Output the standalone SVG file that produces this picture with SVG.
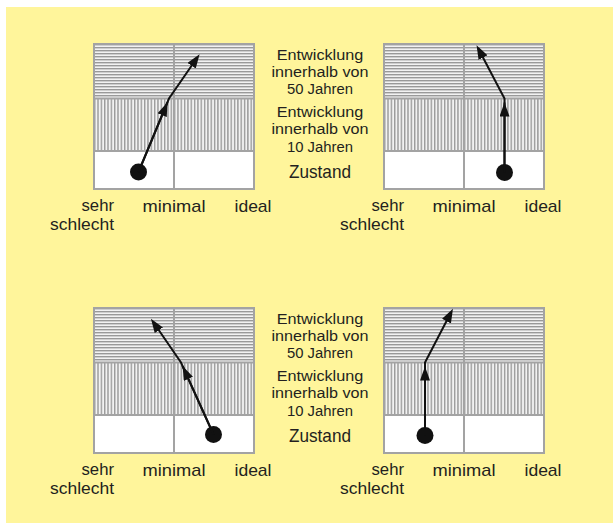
<svg xmlns="http://www.w3.org/2000/svg" width="613" height="525" viewBox="0 0 613 525">
<defs>
<style>
.txt{font-family:"Liberation Sans",Arial,sans-serif;fill:#231f20}
.lbl{font-size:15.5px;text-anchor:middle}
.zst{font-size:18.5px;text-anchor:middle}
.ax{font-size:16.5px}
.axs{font-size:17px}
.mid{text-anchor:middle}
.end{text-anchor:end}
.frame{fill:none;stroke:#a3a3a3;stroke-width:2}
.div{stroke:#a3a3a3;stroke-width:2}
.conn{fill:none;stroke:#111;stroke-width:2}
.dot{fill:#111}
</style>
<pattern id="hs" patternUnits="userSpaceOnUse" x="0" y="0" width="10" height="3">
<rect width="10" height="3" fill="#f2f2f2"/>
<rect y="0" width="10" height="1.4" fill="#999999"/>
</pattern>
<pattern id="vs" patternUnits="userSpaceOnUse" x="0" y="0" width="3.33" height="10">
<rect width="3.33" height="10" fill="#f2f2f2"/>
<rect x="0" width="1.4" height="10" fill="#999999"/>
</pattern>
<marker id="ah" markerUnits="userSpaceOnUse" markerWidth="15" markerHeight="11" refX="10" refY="5" orient="auto">
<path d="M0,0 L14,5 L0,10 z" fill="#111"/>
</marker>
<marker id="ahm" markerUnits="userSpaceOnUse" markerWidth="15" markerHeight="11" refX="14" refY="5" orient="auto">
<path d="M0,0 L14,5 L0,10 z" fill="#111"/>
</marker>
<g id="gridshape">
<rect x="0" y="0" width="160" height="54.5" fill="url(#hs)"/>
<rect x="0" y="54.5" width="160" height="52.5" fill="url(#vs)"/>
<rect x="0" y="107" width="160" height="38" fill="#ffffff"/>
<line class="div" x1="0" y1="54.5" x2="160" y2="54.5"/>
<line class="div" x1="0" y1="107" x2="160" y2="107"/>
<line class="div" x1="80" y1="0" x2="80" y2="145"/>
<rect class="frame" x="0" y="0" width="160" height="145"/>
</g>
</defs>
<rect x="6" y="7" width="607" height="516" fill="#fff59b"/>

<g id="panel1">
<use href="#gridshape" transform="translate(94,44)"/>
<text class="txt ax end" x="114" y="211" textLength="32.5" lengthAdjust="spacingAndGlyphs">sehr</text>
<text class="txt ax end" x="114" y="229.5" textLength="64" lengthAdjust="spacingAndGlyphs">schlecht</text>
<text class="txt axs mid" x="174" y="211.5" textLength="63" lengthAdjust="spacingAndGlyphs">minimal</text>
<text class="txt axs mid" x="253" y="211.5" textLength="37" lengthAdjust="spacingAndGlyphs">ideal</text>
<circle class="dot" cx="138.5" cy="172" r="8.5"/>
</g>
<g id="panel2">
<use href="#gridshape" transform="translate(384,44)"/>
<text class="txt ax end" x="404" y="211" textLength="32.5" lengthAdjust="spacingAndGlyphs">sehr</text>
<text class="txt ax end" x="404" y="229.5" textLength="64" lengthAdjust="spacingAndGlyphs">schlecht</text>
<text class="txt axs mid" x="464" y="211.5" textLength="63" lengthAdjust="spacingAndGlyphs">minimal</text>
<text class="txt axs mid" x="543" y="211.5" textLength="37" lengthAdjust="spacingAndGlyphs">ideal</text>
<circle class="dot" cx="504.5" cy="172.5" r="8.5"/>
</g>
<g id="panel3">
<use href="#gridshape" transform="translate(94,308)"/>
<text class="txt ax end" x="114" y="475" textLength="32.5" lengthAdjust="spacingAndGlyphs">sehr</text>
<text class="txt ax end" x="114" y="493.5" textLength="64" lengthAdjust="spacingAndGlyphs">schlecht</text>
<text class="txt axs mid" x="174" y="475.5" textLength="63" lengthAdjust="spacingAndGlyphs">minimal</text>
<text class="txt axs mid" x="253" y="475.5" textLength="37" lengthAdjust="spacingAndGlyphs">ideal</text>
<circle class="dot" cx="213.5" cy="434.5" r="8.5"/>
</g>
<g id="panel4">
<use href="#gridshape" transform="translate(384,308)"/>
<text class="txt ax end" x="404" y="475" textLength="32.5" lengthAdjust="spacingAndGlyphs">sehr</text>
<text class="txt ax end" x="404" y="493.5" textLength="64" lengthAdjust="spacingAndGlyphs">schlecht</text>
<text class="txt axs mid" x="464" y="475.5" textLength="63" lengthAdjust="spacingAndGlyphs">minimal</text>
<text class="txt axs mid" x="543" y="475.5" textLength="37" lengthAdjust="spacingAndGlyphs">ideal</text>
<circle class="dot" cx="425" cy="435.5" r="8.5"/>
</g>

<g id="legend-top">
<text class="txt lbl" x="320" y="59.5" textLength="86.5" lengthAdjust="spacingAndGlyphs">Entwicklung</text>
<text class="txt lbl" x="320" y="76.8" textLength="97" lengthAdjust="spacingAndGlyphs">innerhalb von</text>
<text class="txt lbl" x="320" y="94" textLength="66" lengthAdjust="spacingAndGlyphs">50 Jahren</text>
<text class="txt lbl" x="320" y="117" textLength="86.5" lengthAdjust="spacingAndGlyphs">Entwicklung</text>
<text class="txt lbl" x="320" y="134.3" textLength="97" lengthAdjust="spacingAndGlyphs">innerhalb von</text>
<text class="txt lbl" x="320" y="151.5" textLength="66" lengthAdjust="spacingAndGlyphs">10 Jahren</text>
<text class="txt zst" x="320" y="177.5" textLength="62" lengthAdjust="spacingAndGlyphs">Zustand</text>
</g>
<g id="legend-bottom">
<text class="txt lbl" x="320" y="323.5" textLength="86.5" lengthAdjust="spacingAndGlyphs">Entwicklung</text>
<text class="txt lbl" x="320" y="340.8" textLength="97" lengthAdjust="spacingAndGlyphs">innerhalb von</text>
<text class="txt lbl" x="320" y="358" textLength="66" lengthAdjust="spacingAndGlyphs">50 Jahren</text>
<text class="txt lbl" x="320" y="381" textLength="86.5" lengthAdjust="spacingAndGlyphs">Entwicklung</text>
<text class="txt lbl" x="320" y="398.3" textLength="97" lengthAdjust="spacingAndGlyphs">innerhalb von</text>
<text class="txt lbl" x="320" y="415.5" textLength="66" lengthAdjust="spacingAndGlyphs">10 Jahren</text>
<text class="txt zst" x="320" y="441.5" textLength="62" lengthAdjust="spacingAndGlyphs">Zustand</text>
</g>

<g id="connectors">
<path class="conn" d="M138.5,172 L169,98.5 L197.3,57.5" marker-end="url(#ah)"/>
<path class="conn" d="M138.5,172 L167.5,102.2" marker-end="url(#ahm)"/>
<path class="conn" d="M504.5,172.5 L504.5,98.5 L478.4,48.7" marker-end="url(#ah)"/>
<path class="conn" d="M504.5,172.5 L504.5,102.5" marker-end="url(#ahm)"/>
<path class="conn" d="M213.5,434.5 L181,362.5 L153.2,322" marker-end="url(#ah)"/>
<path class="conn" d="M213.5,434.5 L182.6,366.1" marker-end="url(#ahm)"/>
<path class="conn" d="M425,435.5 L425,362.5 L451.1,312.2" marker-end="url(#ah)"/>
<path class="conn" d="M425,435.5 L425,366.5" marker-end="url(#ahm)"/>
</g>
</svg>
